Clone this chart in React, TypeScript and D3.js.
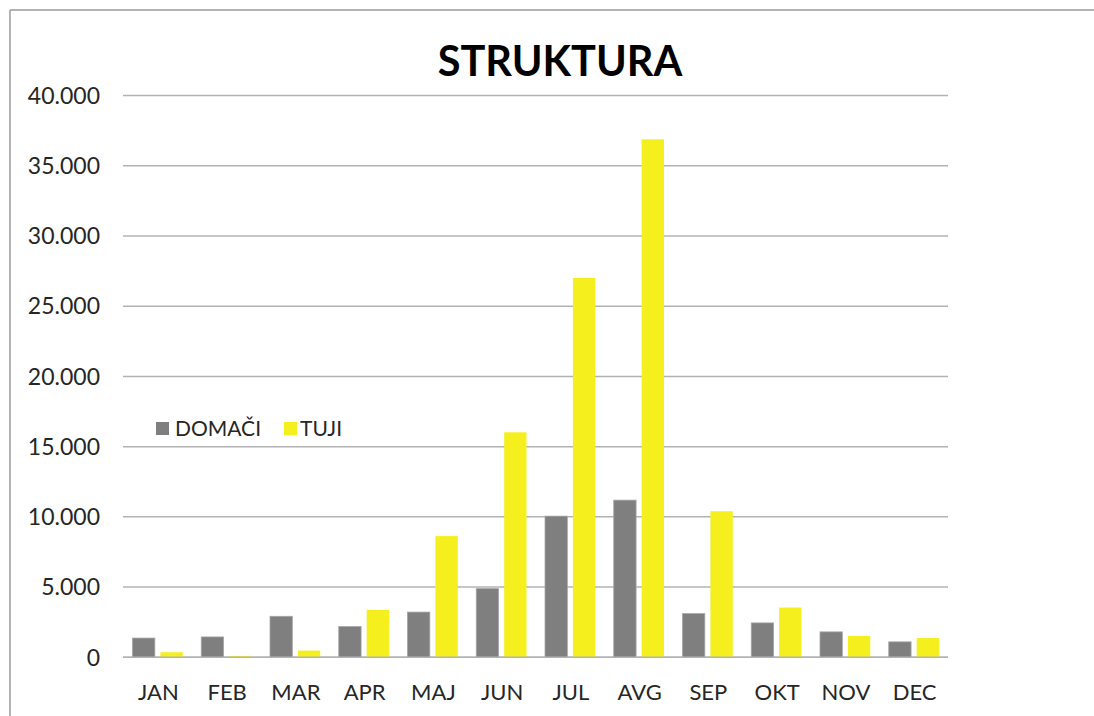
import React from "react";
import * as d3 from "d3";

const months = ["JAN", "FEB", "MAR", "APR", "MAJ", "JUN", "JUL", "AVG", "SEP", "OKT", "NOV", "DEC"];
const domaci = [1370, 1450, 2920, 2190, 3220, 4890, 10050, 11190, 3110, 2450, 1810, 1100];
const tuji = [360, 100, 480, 3370, 8630, 16020, 27010, 36880, 10400, 3540, 1520, 1370];
const yTicks = [0, 5000, 10000, 15000, 20000, 25000, 30000, 35000, 40000];
const seriesNames = ["DOMAČI", "TUJI"];
const colors = ["#7f7f7f", "#f5ef1e"];

const W = 1094;
const H = 716;
const plotLeft = 123;
const plotRight = 948;
const plotTop = 95.5;
const plotBottom = 657.3;
const font = "Lato, 'Open Sans', sans-serif";

export default function App() {
  const x0 = d3.scaleBand<string>().domain(months).range([plotLeft, plotRight]).padding(0);
  const step = x0.bandwidth();
  const x1 = d3.scaleBand<string>().domain(seriesNames).range([9.5, step - 9]).paddingInner(0.2);
  const y = d3.scaleLinear().domain([0, 40000]).range([plotBottom, plotTop]);
  const fmt = (v: number) => d3.format(",")(v).replace(/,/g, ".");
  const series = [domaci, tuji];

  return (
    <svg width={W} height={H} style={{ position: "absolute", left: 0, top: 0, background: "#fff" }}>
      <line x1={10} y1={10} x2={W} y2={10} stroke="#9a9a9a" strokeWidth={1.5} />
      <line x1={10} y1={10} x2={10} y2={H} stroke="#9a9a9a" strokeWidth={1.5} />
      <text x={560} y={76} textAnchor="middle" fontFamily={font} fontWeight={700} fontSize={41.5} fill="#000">
        STRUKTURA
      </text>
      {yTicks.map((t) => (
        <g key={t}>
          <line x1={plotLeft} x2={plotRight} y1={y(t)} y2={y(t)} stroke="#b3b3b3" strokeWidth={1.5} />
          <text x={100} y={y(t)} dy="0.36em" textAnchor="end" fontFamily={font} fontSize={23} fill="#262626">
            {fmt(t)}
          </text>
        </g>
      ))}
      {months.map((m, i) => (
        <g key={m} transform={`translate(${x0(m)},0)`}>
          {series.map((s, j) => (
            <rect
              key={j}
              x={x1(seriesNames[j])}
              y={y(s[i])}
              width={x1.bandwidth()}
              height={plotBottom - y(s[i])}
              fill={colors[j]}
              stroke={j === 0 ? "#a6a6a6" : "none"}
              strokeWidth={j === 0 ? 0.8 : 0}
            />
          ))}
          <text x={step / 2 + 1} y={700} textAnchor="middle" fontFamily={font} fontSize={22} fill="#262626">
            {m}
          </text>
        </g>
      ))}
      <line x1={plotLeft} x2={plotRight} y1={plotBottom} y2={plotBottom} stroke="#b3b3b3" strokeWidth={1.5} />
      <g>
        <rect x={156} y={422} width={13} height={13} fill={colors[0]} />
        <text x={175} y={436} fontFamily={font} fontSize={21} fill="#262626">{seriesNames[0]}</text>
        <rect x={284} y={422} width={13} height={13} fill={colors[1]} />
        <text x={300} y={436} fontFamily={font} fontSize={21} fill="#262626">{seriesNames[1]}</text>
      </g>
    </svg>
  );
}
